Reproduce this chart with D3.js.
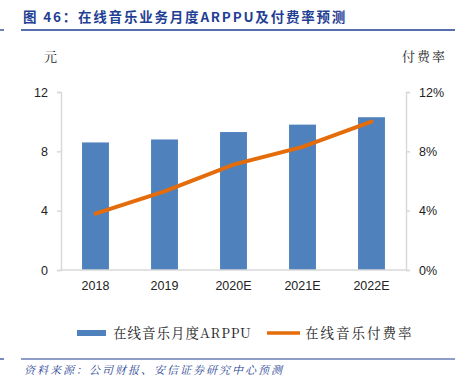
<!DOCTYPE html>
<html>
<head>
<meta charset="utf-8">
<script src="https://cdn.jsdelivr.net/npm/d3@7"></script>
<style>
  body { margin: 0; background: #fff; }
  svg { display: block; }
</style>
</head>
<body>
<script>
// chart data
var years = ["2018", "2019", "2020E", "2021E", "2022E"];
var arppu = [8.6, 8.8, 9.3, 9.8, 10.3];          // 元
var payRate = [3.8, 5.3, 7.1, 8.3, 10.0];        // %
var leftTicks = [0, 4, 8, 12];
var rightTicks = [0, 4, 8, 12];

var W = 461, H = 387;
var margin = {top: 92, right: 55, bottom: 117, left: 61};
var width = W - margin.left - margin.right;
var height = H - margin.top - margin.bottom;

var svg = d3.select("body").append("svg")
  .attr("width", W)
  .attr("height", H);

var blue = "#1f3f94";
var serif = "'Noto Serif CJK SC', 'Noto Sans CJK SC', serif";
var sansCJK = "'Noto Sans CJK SC', sans-serif";

// title
svg.append("text")
  .attr("x", 23).attr("y", 22)
  .attr("font-family", sansCJK)
  .attr("font-weight", "bold")
  .attr("font-size", "13.5px")
  .attr("letter-spacing", "1.8px")
  .attr("fill", blue)
  .text("图 46：在线音乐业务月度ARPPU及付费率预测");

svg.append("line")
  .attr("x1", 21).attr("x2", 455).attr("y1", 30).attr("y2", 30)
  .attr("stroke", blue).attr("stroke-width", 1.3);
svg.append("line")
  .attr("x1", 0).attr("x2", 4).attr("y1", 30).attr("y2", 30)
  .attr("stroke", blue).attr("stroke-width", 1.3);

var g = svg.append("g")
  .attr("transform", "translate(" + margin.left + "," + margin.top + ")");

var x = d3.scaleBand().domain(years).range([0, width]).paddingInner(0.61).paddingOuter(0.305);
var xPoint = function(d) { return x(d) + x.bandwidth() / 2; };
var yL = d3.scaleLinear().domain([0, 12]).range([height, 0]);
var yR = d3.scaleLinear().domain([0, 12]).range([height, 0]);

// bars
g.selectAll("rect.bar")
  .data(years)
  .enter().append("rect")
  .attr("class", "bar")
  .attr("x", function(d) { return x(d); })
  .attr("width", x.bandwidth())
  .attr("y", function(d, i) { return yL(arppu[i]); })
  .attr("height", function(d, i) { return height - yL(arppu[i]); })
  .attr("fill", "#4f81bd");

// axes
var axisColor = "#d9d9d9";
var leftAxis = g.append("g")
  .call(d3.axisLeft(yL).tickValues(leftTicks).tickSize(4).tickPadding(9));
var rightAxis = g.append("g")
  .attr("transform", "translate(" + width + ",0)")
  .call(d3.axisRight(yR).tickValues(rightTicks).tickSize(4).tickPadding(9)
    .tickFormat(function(d) { return d + "%"; }));
var bottomAxis = g.append("g")
  .attr("transform", "translate(0," + height + ")")
  .call(d3.axisBottom(x).tickSize(0).tickPadding(11));

[leftAxis, rightAxis, bottomAxis].forEach(function(a) {
  a.selectAll("path, line").attr("stroke", axisColor).attr("stroke-width", 1.5);
  a.selectAll("text")
    .attr("font-family", "'Liberation Sans', Arial, sans-serif")
    .attr("font-size", "12.5px")
    .attr("fill", "#222");
});
bottomAxis.select("path").attr("d", "M0,0H" + width);

// line
var line = d3.line()
  .x(function(d, i) { return xPoint(years[i]); })
  .y(function(d) { return yR(d); });

g.append("path")
  .datum(payRate)
  .attr("d", line)
  .attr("fill", "none")
  .attr("stroke", "#e46c0a")
  .attr("stroke-width", 4)
  .attr("stroke-linecap", "round");

// unit labels
svg.append("text")
  .attr("x", 44).attr("y", 61)
  .attr("font-family", serif).attr("font-size", "13px").attr("fill", "#222")
  .text("元");
svg.append("text")
  .attr("x", 402).attr("y", 61)
  .attr("font-family", serif).attr("font-size", "13px").attr("fill", "#222")
  .attr("letter-spacing", "2px")
  .text("付费率");

// legend
var legY = 333;
svg.append("rect")
  .attr("x", 77).attr("y", legY - 3).attr("width", 29).attr("height", 6)
  .attr("fill", "#4f81bd");
svg.append("text")
  .attr("x", 113).attr("y", legY + 5)
  .attr("font-family", serif).attr("font-size", "13.5px").attr("fill", "#222")
  .attr("letter-spacing", "1px")
  .text("在线音乐月度ARPPU");
svg.append("line")
  .attr("x1", 267).attr("x2", 300).attr("y1", legY).attr("y2", legY)
  .attr("stroke", "#e46c0a").attr("stroke-width", 3.5);
svg.append("text")
  .attr("x", 305).attr("y", legY + 5)
  .attr("font-family", serif).attr("font-size", "13.5px").attr("fill", "#222")
  .attr("letter-spacing", "2px")
  .text("在线音乐付费率");

// source
svg.append("line")
  .attr("x1", 21).attr("x2", 455).attr("y1", 359).attr("y2", 359)
  .attr("stroke", blue).attr("stroke-width", 1.2);
svg.append("line")
  .attr("x1", 0).attr("x2", 4).attr("y1", 359).attr("y2", 359)
  .attr("stroke", blue).attr("stroke-width", 1.2);
svg.append("text")
  .attr("x", 24).attr("y", 374)
  .attr("font-family", serif).attr("font-size", "11px").attr("font-style", "italic")
  .attr("fill", blue).attr("letter-spacing", "2px")
  .text("资料来源：公司财报、安信证券研究中心预测");
</script>
</body>
</html>
